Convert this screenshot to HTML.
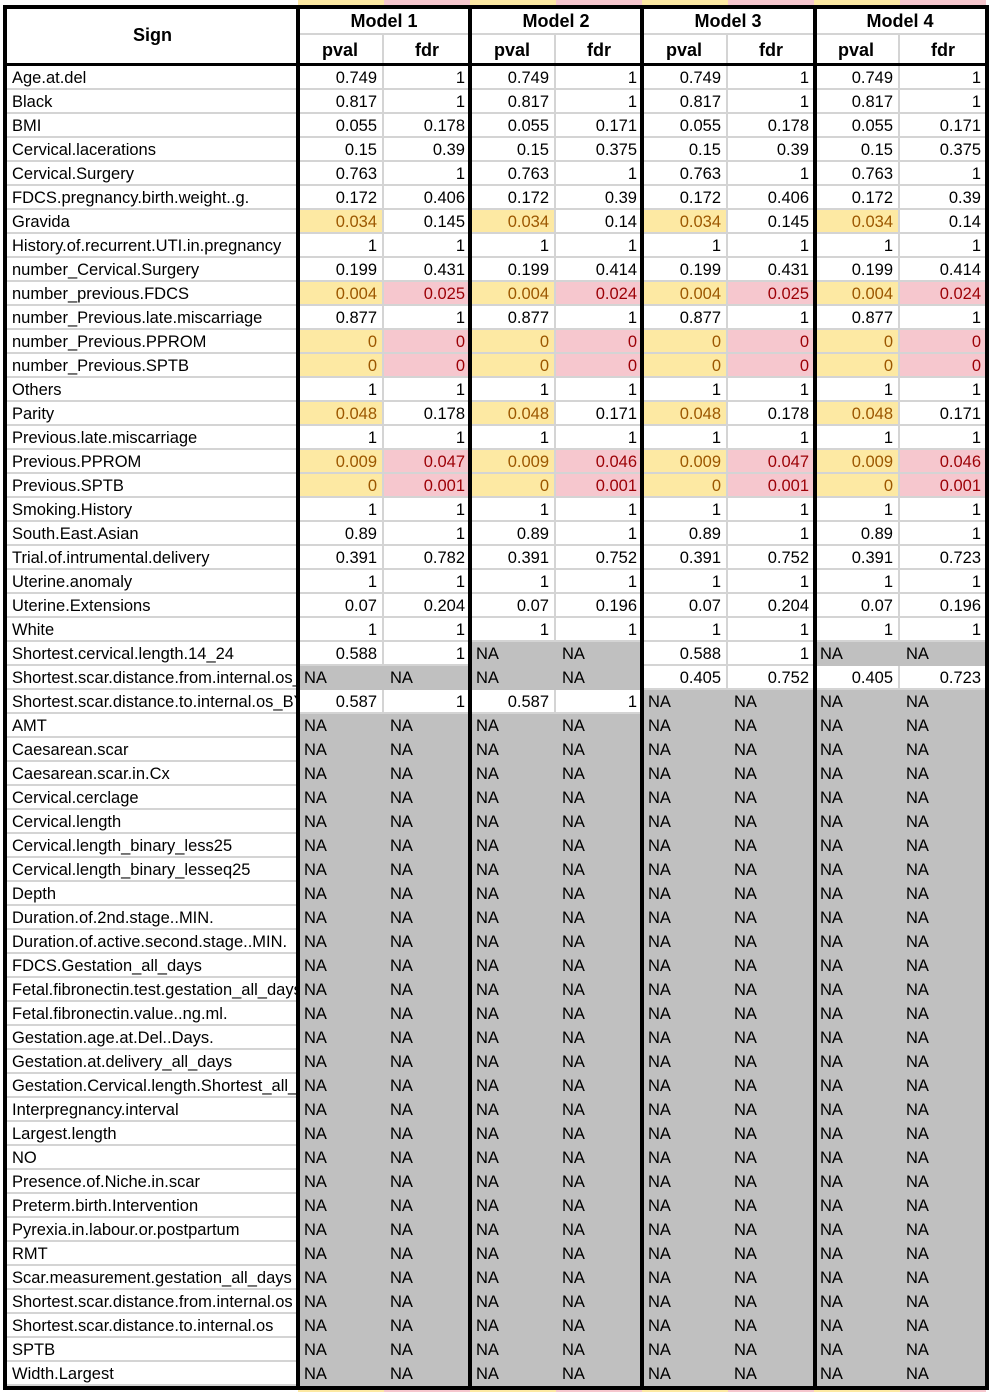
<!DOCTYPE html>
<html><head><meta charset="utf-8">
<style>
html,body{margin:0;padding:0;background:#fff;}
#t{position:relative;width:992px;height:1392px;overflow:hidden;font-family:"Liberation Sans",Arial,sans-serif;}
.c{position:absolute;box-sizing:border-box;font-size:16.5px;line-height:25px;white-space:nowrap;overflow:hidden;color:#000;}
.h{font-weight:bold;font-size:18px;text-align:center;}
.b{position:absolute;background:#000;}
</style></head><body>
<div id="t"></div>
<script>
const signs=["Age.at.del","Black","BMI","Cervical.lacerations","Cervical.Surgery","FDCS.pregnancy.birth.weight..g.","Gravida","History.of.recurrent.UTI.in.pregnancy","number_Cervical.Surgery","number_previous.FDCS","number_Previous.late.miscarriage","number_Previous.PPROM","number_Previous.SPTB","Others","Parity","Previous.late.miscarriage","Previous.PPROM","Previous.SPTB","Smoking.History","South.East.Asian","Trial.of.intrumental.delivery","Uterine.anomaly","Uterine.Extensions","White","Shortest.cervical.length.14_24","Shortest.scar.distance.from.internal.os_BY","Shortest.scar.distance.to.internal.os_BY","AMT","Caesarean.scar","Caesarean.scar.in.Cx","Cervical.cerclage","Cervical.length","Cervical.length_binary_less25","Cervical.length_binary_lesseq25","Depth","Duration.of.2nd.stage..MIN.","Duration.of.active.second.stage..MIN.","FDCS.Gestation_all_days","Fetal.fibronectin.test.gestation_all_days","Fetal.fibronectin.value..ng.ml.","Gestation.age.at.Del..Days.","Gestation.at.delivery_all_days","Gestation.Cervical.length.Shortest_all_days","Interpregnancy.interval","Largest.length","NO","Presence.of.Niche.in.scar","Preterm.birth.Intervention","Pyrexia.in.labour.or.postpartum","RMT","Scar.measurement.gestation_all_days","Shortest.scar.distance.from.internal.os","Shortest.scar.distance.to.internal.os","SPTB","Width.Largest"];
const pvalBase=["0.749","0.817","0.055","0.15","0.763","0.172","0.034","1","0.199","0.004","0.877","0","0","1","0.048","1","0.009","0","1","0.89","0.391","1","0.07","1"];
const fdrA=["1","1","0.178","0.39","1","0.406","0.145","1","0.431","0.025","1","0","0","1","0.178","1","0.047","0.001","1","1","0.782","1","0.204","1"];
const fdrB=["1","1","0.171","0.375","1","0.39","0.14","1","0.414","0.024","1","0","0","1","0.171","1","0.046","0.001","1","1","0.752","1","0.196","1"];
const fdrC=["1","1","0.178","0.39","1","0.406","0.145","1","0.431","0.025","1","0","0","1","0.178","1","0.047","0.001","1","1","0.752","1","0.204","1"];
const fdrD=["1","1","0.171","0.375","1","0.39","0.14","1","0.414","0.024","1","0","0","1","0.171","1","0.046","0.001","1","1","0.723","1","0.196","1"];
const extraP=[["0.588",null,"0.588",null],[null,null,"0.405","0.405"],["0.587","0.587",null,null]];
const extraF=[["1",null,"1",null],[null,null,"0.752","0.723"],["1","1",null,null]];
const models=["Model 1","Model 2","Model 3","Model 4"];
const T=document.getElementById('t');
function cell(x,y,w,h,txt,cls,st){const d=document.createElement('div');d.className='c '+(cls||'');d.style.left=x+'px';d.style.top=y+'px';d.style.width=w+'px';d.style.height=h+'px';if(st)Object.assign(d.style,st);d.textContent=txt;T.appendChild(d);return d;}
const mx=[298,470,642,814], sub=86;
mx.forEach(x=>{[[0,5],[1389,3]].forEach(([y,h])=>{cell(x,y,sub,h,'',"",{background:'#fde9a3'});cell(x+sub,y,sub,h,'',"",{background:'#f6c7ce'});});});
for(let i=0;i<signs.length;i++){
  const y=66+24*i;
  let d=cell(7,y,291,24,signs[i],'',{paddingLeft:'5px',borderBottom:'2px solid #d4d4d4'});
  
  
  const fd=[fdrA,fdrB,fdrC,fdrD];
  for(let m=0;m<4;m++){
    let p,f;
    if(i<24){p=pvalBase[i];f=fd[m][i];}
    else if(i<27){p=extraP[i-24][m];f=extraF[i-24][m];}
    else{p=null;f=null;}
    const x=mx[m];
    if(p===null){
      let a=cell(x,y,sub,24,'NA','',{background:'#c0c0c0',paddingLeft:'6px'});
      
      let b=cell(x+sub,y,sub,24,'NA','',{background:'#c0c0c0',paddingLeft:'6px'});
      
    } else {
      const py=parseFloat(p)<0.05, fy=parseFloat(f)<0.05;
      let a=cell(x,y,sub,24,p,'',{textAlign:'right',paddingRight:'5px',borderBottom:'2px solid #d4d4d4',borderRight:'2px solid #d4d4d4',background:py?'#fde9a3':'#fff',color:py?'#9c5700':'#000'});
      
      let b=cell(x+sub,y,sub,24,f,'',{textAlign:'right',paddingRight:'5px',borderBottom:'2px solid #d4d4d4',background:fy?'#f6c7ce':'#fff',color:fy?'#9c0006':'#000'});
      
    }
  }
}
let sh=cell(7,9,291,55,'Sign','h',{lineHeight:'52px'});

for(let m=0;m<4;m++){
  const x=mx[m];
  let a=cell(x,9,172,26,models[m],'h',{borderBottom:'2px solid #d4d4d4',lineHeight:'24px'});
  
  let b=cell(x,35,sub,29,'pval','h',{borderRight:'2px solid #d4d4d4',lineHeight:'30px'});
  
  let c=cell(x+sub,35,sub,29,'fdr','h',{lineHeight:'30px'});
  
}
function bar(x,y,w,h){const d=document.createElement('div');d.className='b';d.style.left=x+'px';d.style.top=y+'px';d.style.width=w+'px';d.style.height=h+'px';


T.appendChild(d);}
bar(3,5,986,4);bar(3,63,986,3);bar(3,1386,986,4);
[3,296,468,640,813,985].forEach(x=>bar(x,5,4,1385));
</script>
</body></html>
